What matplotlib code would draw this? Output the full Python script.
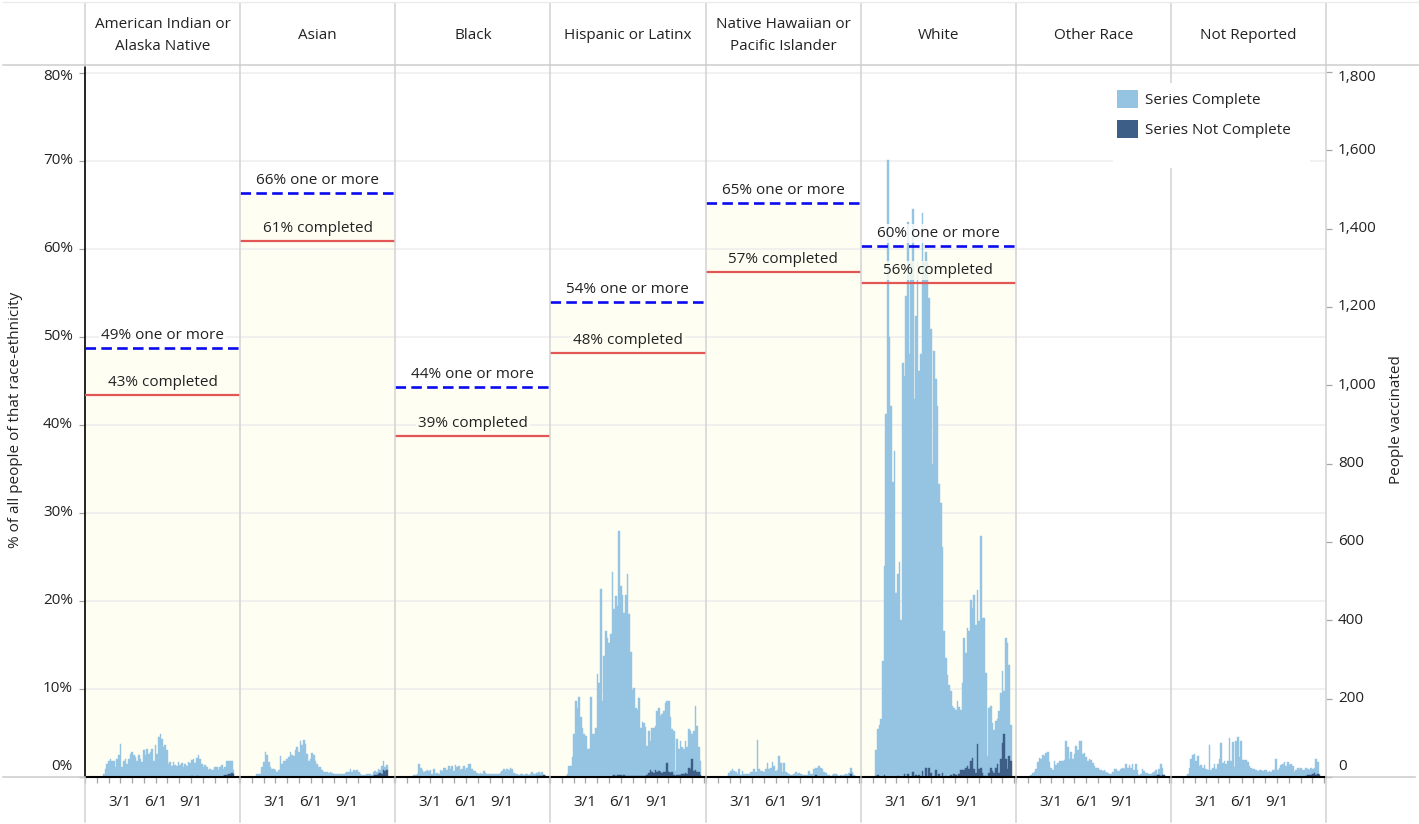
import numpy as np
import pandas as pd
import matplotlib
matplotlib.use("Agg")
import matplotlib.pyplot as plt
import matplotlib.dates as mdates
import matplotlib.transforms as mtransforms
from matplotlib.lines import Line2D
from matplotlib.patches import Patch, Rectangle

plt.rcParams['font.family'] = ['Open Sans', 'DejaVu Sans']
plt.rcParams['font.size'] = 11

# ---------------- data ----------------
groups = ["American Indian or\nAlaska Native", "Asian", "Black", "Hispanic or Latinx",
          "Native Hawaiian or\nPacific Islander", "White", "Other Race", "Not Reported"]

one_or_more_pct = [48.8, 66.4, 44.3, 54.0, 65.2, 60.3, None, None]
completed_pct = [43.4, 60.9, 38.7, 48.2, 57.4, 56.1, None, None]

# people vaccinated per bar (about 4.3 days each), starting early January 2021
complete_aian = [0, 0, 8, 21, 34, 42, 47, 42, 42, 25,
                 47, 55, 85, 25, 42, 47, 34, 47, 59, 64,
                 55, 51, 42, 55, 47, 38, 68, 55, 72, 59,
                 64, 72, 42, 81, 59, 102, 109, 98, 76, 81,
                 68, 34, 38, 27, 38, 30, 27, 38, 30, 36,
                 25, 34, 27, 38, 36, 42, 47, 36, 47, 55,
                 47, 34, 25, 30, 25, 17, 21, 17, 19, 25,
                 25, 19, 25, 30, 18, 20, 36, 32, 34, 32,
                 9, 0]
notcomplete_aian = [0, 0, 0, 0, 0, 0, 0, 0, 0, 0,
                    0, 0, 0, 0, 0, 0, 0, 0, 0, 0,
                    0, 0, 0, 0, 0, 0, 0, 0, 0, 0,
                    0, 0, 0, 0, 0, 0, 0, 0, 0, 0,
                    0, 0, 0, 0, 0, 0, 0, 0, 0, 0,
                    0, 0, 0, 0, 0, 2, 0, 0, 2, 0,
                    0, 0, 0, 0, 0, 0, 0, 0, 0, 0,
                    0, 0, 0, 0, 3, 5, 6, 8, 8, 10,
                    8, 0]

complete_asian = [0, 8, 8, 8, 25, 38, 64, 55, 38, 25,
                  21, 21, 17, 13, 17, 53, 34, 42, 42, 47,
                  50, 64, 55, 53, 68, 76, 64, 93, 81, 95,
                  85, 59, 42, 47, 61, 55, 42, 34, 25, 25,
                  17, 13, 13, 13, 10, 13, 10, 8, 8, 8,
                  8, 8, 8, 8, 10, 13, 13, 21, 14, 17,
                  15, 17, 13, 8, 6, 6, 6, 8, 8, 7,
                  6, 10, 11, 8, 13, 7, 19, 25, 10, 13,
                  0, 0]
notcomplete_asian = [0, 0, 0, 0, 0, 0, 0, 0, 0, 0,
                     0, 0, 0, 0, 0, 0, 0, 0, 0, 0,
                     0, 0, 0, 0, 0, 0, 0, 0, 0, 0,
                     0, 0, 0, 0, 0, 0, 0, 0, 0, 0,
                     0, 0, 0, 0, 0, 0, 0, 0, 0, 0,
                     0, 0, 0, 0, 0, 0, 0, 0, 0, 0,
                     0, 0, 0, 0, 0, 0, 0, 0, 0, 0,
                     0, 3, 4, 5, 8, 10, 8, 17, 15, 17,
                     0, 0]

complete_black = [0, 0, 4, 6, 8, 32, 24, 19, 13, 15,
                  19, 15, 17, 8, 21, 8, 10, 8, 19, 15,
                  24, 24, 17, 27, 21, 27, 15, 30, 25, 27,
                  17, 21, 27, 19, 24, 32, 32, 21, 15, 15,
                  10, 8, 10, 7, 15, 10, 7, 8, 7, 8,
                  7, 8, 8, 8, 10, 15, 21, 15, 21, 17,
                  24, 21, 10, 8, 7, 4, 7, 8, 4, 8,
                  7, 4, 7, 13, 8, 7, 8, 10, 6, 10,
                  2, 0]
notcomplete_black = [0, 0, 0, 0, 0, 0, 0, 0, 0, 0,
                     0, 0, 0, 0, 0, 0, 0, 0, 0, 0,
                     0, 0, 0, 0, 0, 0, 0, 0, 0, 0,
                     0, 0, 0, 0, 0, 0, 0, 0, 0, 0,
                     0, 0, 0, 0, 0, 0, 0, 0, 0, 0,
                     0, 0, 0, 0, 0, 0, 0, 0, 0, 0,
                     0, 0, 0, 0, 0, 0, 0, 0, 0, 0,
                     0, 0, 0, 0, 0, 0, 2, 3, 2, 3,
                     4, 2]

complete_hisp = [3, 8, 29, 29, 50, 110, 194, 177, 203, 152,
                 126, 110, 105, 71, 71, 203, 110, 110, 126, 262,
                 241, 479, 194, 309, 373, 356, 343, 364, 521, 424,
                 458, 432, 625, 483, 462, 415, 462, 517, 415, 318,
                 220, 224, 173, 169, 199, 122, 139, 135, 126, 74,
                 108, 75, 114, 116, 114, 155, 162, 144, 150, 157,
                 176, 159, 182, 142, 110, 113, 13, 92, 65, 88,
                 68, 63, 83, 68, 100, 98, 65, 103, 164, 119,
                 64, 37]
notcomplete_hisp = [0, 0, 0, 0, 0, 0, 0, 0, 0, 0,
                    0, 0, 0, 0, 0, 0, 0, 0, 0, 0,
                    0, 0, 0, 0, 0, 0, 0, 0, 3, 4,
                    3, 5, 4, 5, 3, 4, 3, 2, 2, 2,
                    2, 2, 2, 2, 2, 2, 2, 2, 2, 6,
                    10, 18, 12, 10, 17, 14, 15, 12, 10, 12,
                    14, 35, 12, 10, 12, 5, 3, 5, 6, 5,
                    8, 8, 10, 8, 22, 20, 45, 15, 18, 12,
                    12, 5]

complete_nhpi = [0, 0, 0, 0, 2, 11, 15, 20, 15, 14,
                 8, 20, 5, 15, 8, 8, 7, 8, 13, 13,
                 20, 14, 94, 20, 15, 15, 14, 20, 36, 20,
                 24, 39, 28, 15, 17, 53, 36, 14, 36, 14,
                 11, 8, 5, 5, 8, 14, 8, 11, 7, 5,
                 5, 5, 5, 15, 8, 8, 20, 16, 22, 28,
                 24, 20, 14, 11, 5, 5, 3, 5, 8, 7,
                 5, 3, 5, 3, 5, 7, 5, 11, 14, 14,
                 5, 0]
notcomplete_nhpi = [0, 0, 0, 0, 0, 0, 0, 0, 0, 0,
                    0, 0, 0, 0, 0, 0, 0, 0, 0, 0,
                    0, 0, 0, 0, 0, 0, 0, 0, 0, 0,
                    0, 0, 0, 0, 0, 0, 0, 0, 0, 0,
                    0, 0, 0, 0, 0, 0, 0, 0, 0, 0,
                    0, 0, 0, 0, 0, 0, 0, 6, 0, 0,
                    0, 0, 0, 0, 0, 0, 0, 0, 0, 0,
                    0, 0, 0, 0, 0, 0, 0, 0, 8, 0,
                    0, 0]

complete_white = [66, 117, 134, 147, 295, 533, 927, 1576, 1123, 947,
                  754, 832, 470, 516, 550, 400, 1057, 1018, 1227, 1410,
                  1079, 1316, 1436, 965, 1171, 1316, 1031, 1079, 1426, 1316,
                  1316, 1316, 1200, 1133, 800, 1087, 1000, 947, 741, 700,
                  576, 372, 300, 261, 236, 215, 181, 168, 168, 194,
                  172, 155, 223, 338, 293, 352, 352, 411, 382, 445,
                  378, 395, 377, 590, 395, 403, 263, 53, 166, 157,
                  123, 110, 119, 115, 157, 170, 183, 110, 310, 322,
                  234, 93]
notcomplete_white = [3, 6, 0, 0, 0, 6, 0, 0, 0, 0,
                     0, 0, 0, 3, 0, 0, 0, 7, 0, 7,
                     0, 0, 13, 0, 5, 0, 5, 0, 15, 0,
                     24, 0, 24, 11, 0, 0, 17, 0, 8, 0,
                     11, 0, 3, 0, 0, 5, 0, 7, 4, 0,
                     7, 17, 17, 17, 24, 28, 20, 41, 49, 20,
                     11, 83, 20, 24, 11, 3, 3, 0, 11, 24,
                     15, 11, 24, 32, 11, 45, 87, 109, 45, 20,
                     53, 41]

complete_other = [6, 10, 13, 21, 38, 49, 47, 55, 53, 61,
                  64, 38, 24, 17, 42, 30, 36, 40, 42, 42,
                  44, 93, 76, 47, 64, 47, 59, 78, 70, 93,
                  93, 58, 61, 51, 42, 47, 44, 36, 27, 24,
                  24, 19, 17, 15, 17, 13, 10, 7, 8, 13,
                  21, 21, 15, 15, 21, 24, 21, 32, 24, 30,
                  24, 32, 19, 32, 17, 4, 7, 21, 15, 10,
                  10, 8, 8, 10, 11, 16, 4, 16, 29, 18,
                  0, 0]
notcomplete_other = [0, 0, 0, 0, 0, 0, 0, 0, 0, 0,
                     0, 0, 0, 0, 0, 0, 0, 0, 0, 0,
                     0, 0, 0, 0, 0, 0, 0, 0, 0, 0,
                     0, 0, 0, 0, 0, 0, 0, 0, 0, 0,
                     0, 0, 0, 0, 0, 0, 0, 0, 0, 0,
                     0, 0, 0, 0, 0, 0, 0, 0, 0, 0,
                     0, 0, 0, 0, 0, 0, 0, 0, 0, 0,
                     0, 0, 0, 0, 2, 3, 4, 5, 3, 6,
                     4, 0]

complete_notrep = [2, 7, 24, 47, 55, 58, 42, 53, 27, 30,
                   24, 30, 21, 19, 81, 19, 24, 34, 21, 32,
                   47, 87, 36, 42, 34, 42, 100, 42, 89, 25,
                   93, 102, 51, 93, 44, 44, 44, 38, 27, 24,
                   21, 21, 17, 15, 19, 17, 15, 17, 17, 13,
                   15, 13, 17, 19, 47, 19, 24, 30, 34, 38,
                   27, 38, 30, 34, 27, 13, 19, 24, 21, 24,
                   19, 19, 21, 17, 14, 18, 13, 14, 41, 30,
                   2, 0]
notcomplete_notrep = [0, 0, 0, 0, 0, 0, 0, 0, 0, 0,
                      0, 0, 0, 0, 0, 0, 0, 0, 0, 0,
                      0, 0, 0, 0, 0, 0, 0, 0, 0, 0,
                      0, 0, 0, 0, 0, 0, 0, 0, 0, 0,
                      0, 0, 0, 0, 0, 0, 0, 0, 0, 0,
                      0, 0, 0, 0, 0, 0, 0, 0, 0, 0,
                      0, 0, 0, 0, 0, 0, 0, 0, 0, 0,
                      0, 0, 3, 4, 5, 6, 8, 10, 6, 8,
                      5, 0]

complete_series = [complete_aian, complete_asian, complete_black, complete_hisp,
                   complete_nhpi, complete_white, complete_other, complete_notrep]
notcomplete_series = [notcomplete_aian, notcomplete_asian, notcomplete_black, notcomplete_hisp,
                      notcomplete_nhpi, notcomplete_white, notcomplete_other, notcomplete_notrep]

pct_ticks = [0, 10, 20, 30, 40, 50, 60, 70, 80]
people_ticks = [0, 200, 400, 600, 800, 1000, 1200, 1400, 1600, 1800]
month_ticks = pd.date_range('2020-12-01', '2022-01-01', freq='MS')
month_labels = {"2021-03-01": "3/1", "2021-06-01": "6/1", "2021-09-01": "9/1"}

BAR_START = pd.Timestamp('2021-01-07 12:00')
BAR_HOURS = 103

# ---------------- style / layout ----------------
LIGHT = '#94c4e1'
DARK = '#3d5e86'
CREAM = '#fefef3'
GRID = '#ededed'
SEP = '#d2d2d2'
TXT = '#222222'
BLUE = '#0a0af0'
RED = '#e25656'

W, H = 1419, 824
fig = plt.figure(figsize=(W / 100, H / 100), dpi=100)
fig.patch.set_facecolor('white')


def fx(px):
    return px / W


def fy(py):
    return 1 - py / H


def off(dx, dy):
    return mtransforms.ScaledTranslation(dx / 100, dy / 100, fig.dpi_scale_trans)


PANEL_L, PANEL_R, TOP, BASE = 85, 1326, 66, 777
pw = (PANEL_R - PANEL_L) / len(groups)
PCT_TOP = (BASE - TOP) / 8.8
PEOPLE_TOP = (BASE - TOP) / 0.3917
X_LEFT = mdates.date2num(pd.Timestamp('2020-11-30 18:00'))
X_RIGHT = X_LEFT + 400.3

bar_dates = pd.date_range(BAR_START, periods=len(complete_aian), freq=f'{BAR_HOURS}h')
bx = mdates.date2num(bar_dates)
bw = BAR_HOURS / 24

first_axp = None
last_ax = None
for i, g in enumerate(groups):
    L = PANEL_L + i * pw
    axp = fig.add_axes([fx(L), fy(BASE), pw / W, (BASE - TOP) / H])
    axp.set_xlim(X_LEFT, X_RIGHT)
    axp.set_ylim(0, PCT_TOP)
    for s in axp.spines.values():
        s.set_visible(False)
    if one_or_more_pct[i] is not None:
        axp.axhspan(0, one_or_more_pct[i], facecolor=CREAM, lw=0, zorder=0.5)
    for v in pct_ticks[1:]:
        axp.axhline(v, color=GRID, lw=1.1, zorder=0.8)
    axp.set_xticks(mdates.date2num(month_ticks))
    axp.set_xticklabels([month_labels.get(d.strftime('%Y-%m-%d'), '') for d in month_ticks])
    axp.tick_params(axis='x', length=4.3, width=0.9, color='#a5a5a5', pad=8.5,
                    labelsize=11, labelcolor=TXT)
    if i == 0:
        axp.spines['left'].set_visible(True)
        axp.spines['left'].set_color('black')
        axp.spines['left'].set_linewidth(1.2)
        axp.set_yticks(pct_ticks)
        axp.set_yticklabels([])
        axp.tick_params(axis='y', length=4.3, width=0.9, color='#a5a5a5')
        first_axp = axp
    else:
        axp.set_yticks([])

    ax = axp.twinx()
    ax.set_ylim(0, PEOPLE_TOP)
    for s in ax.spines.values():
        s.set_visible(False)
    ax.spines['bottom'].set_visible(True)
    ax.spines['bottom'].set_color('black')
    ax.spines['bottom'].set_linewidth(1.5)
    ax.spines['bottom'].set_zorder(5)
    nc = np.array(notcomplete_series[i])
    cp = np.array(complete_series[i])
    ax.bar(bx, nc, width=bw, align='edge', color=DARK, edgecolor=DARK, lw=0.3, zorder=2.1)
    ax.bar(bx, cp, bottom=nc, width=bw, align='edge', color=LIGHT, edgecolor=LIGHT, lw=0.3, zorder=2)
    if i == len(groups) - 1:
        ax.set_yticks(people_ticks)
        ax.set_yticklabels([])
        ax.tick_params(axis='y', length=4.3, width=0.9, color='#a5a5a5')
        last_ax = ax
    else:
        ax.set_yticks([])

    blend = mtransforms.blended_transform_factory(ax.transAxes, axp.transData)
    if one_or_more_pct[i] is not None:
        o = one_or_more_pct[i]
        c = completed_pct[i]
        ln, = ax.plot([0, 1], [o, o], transform=blend, color=BLUE, lw=1.9, zorder=3,
                      solid_capstyle='butt', dash_capstyle='butt')
        ln.set_dashes((4, 2))
        ax.plot([0, 1], [c, c], transform=blend, color=RED, lw=1.6, zorder=3)
        ax.text(0.5, o, f"{round(o)}% one or more", transform=blend + off(0, 12.5),
                ha='center', va='center', fontsize=11, color=TXT, zorder=4,
                bbox=dict(facecolor='white', edgecolor='none', alpha=0.8, pad=1.5))
        ax.text(0.5, c, f"{round(c)}% completed", transform=blend + off(0, 12.5),
                ha='center', va='center', fontsize=11, color=TXT, zorder=4,
                bbox=dict(facecolor=CREAM, edgecolor='none', alpha=0.8, pad=1.5))
    ax.set_xlim(X_LEFT, X_RIGHT)

    # panel header
    fig.text(fx(L + pw / 2), fy(35.5), g, ha='center', va='center', fontsize=11,
             color=TXT, linespacing=1.6)

# left axis labels
bl = mtransforms.blended_transform_factory(first_axp.transAxes, first_axp.transData)
for v in pct_ticks:
    dy = 11 if v == pct_ticks[0] else (-4 if v == pct_ticks[-1] else 0)
    first_axp.text(0, v, f"{v}%", transform=bl + off(-12, dy), ha='right', va='center',
                   fontsize=11, color=TXT, clip_on=False)
# right axis labels
br = mtransforms.blended_transform_factory(last_ax.transAxes, last_ax.transData)
for v in people_ticks:
    dy = 11 if v == people_ticks[0] else (-6 if v == people_ticks[-1] else 0)
    last_ax.text(1, v, f"{v:,}", transform=br + off(12, dy), ha='left', va='center',
                 fontsize=11, color=TXT, clip_on=False)

fig.text(fx(16), fy(420), "% of all people of that race-ethnicity", rotation=90,
         ha='center', va='center', fontsize=11, color=TXT)
fig.text(fx(1397), fy(420), "People vaccinated", rotation=90,
         ha='center', va='center', fontsize=11, color=TXT)

# separators and frame lines
for k in range(len(groups) + 1):
    xp = PANEL_L + k * pw
    ytop_end = TOP if k == 0 else BASE - 1
    fig.add_artist(Line2D([fx(xp), fx(xp)], [fy(3), fy(ytop_end)], color=SEP, lw=1.1, zorder=1))
    fig.add_artist(Line2D([fx(xp), fx(xp)], [fy(BASE + 1), fy(822)], color=SEP, lw=1.1, zorder=1))
fig.add_artist(Line2D([fx(3), fx(1419)], [fy(64.5), fy(64.5)], color='#cdcdcd', lw=1.1, zorder=1))
fig.add_artist(Line2D([fx(3), fx(1419)], [fy(1.5), fy(1.5)], color='#ebebeb', lw=1.0, zorder=1))
fig.add_artist(Line2D([fx(3), fx(PANEL_L)], [fy(BASE), fy(BASE)], color='#cacaca', lw=1.1, zorder=1))
fig.add_artist(Line2D([fx(PANEL_R), fx(1415)], [fy(BASE), fy(BASE)], color='#cacaca', lw=1.1, zorder=1))

# legend
fig.add_artist(Rectangle((fx(1113), fy(168)), (1310 - 1113) / W, (168 - 83) / H,
                         transform=fig.transFigure, facecolor='white', edgecolor='none', zorder=5))
leg = fig.legend(handles=[Patch(facecolor=LIGHT, label='Series Complete'),
                          Patch(facecolor=DARK, label='Series Not Complete')],
                 loc='upper left', bbox_to_anchor=(fx(1117), fy(90)), frameon=False,
                 borderpad=0, borderaxespad=0, handlelength=1.4, handleheight=1.4,
                 handletextpad=0.45, labelspacing=0.82, fontsize=11)
for t in leg.get_texts():
    t.set_color(TXT)
leg.set_zorder(6)

fig.savefig('out.png', dpi=100, facecolor='white')
